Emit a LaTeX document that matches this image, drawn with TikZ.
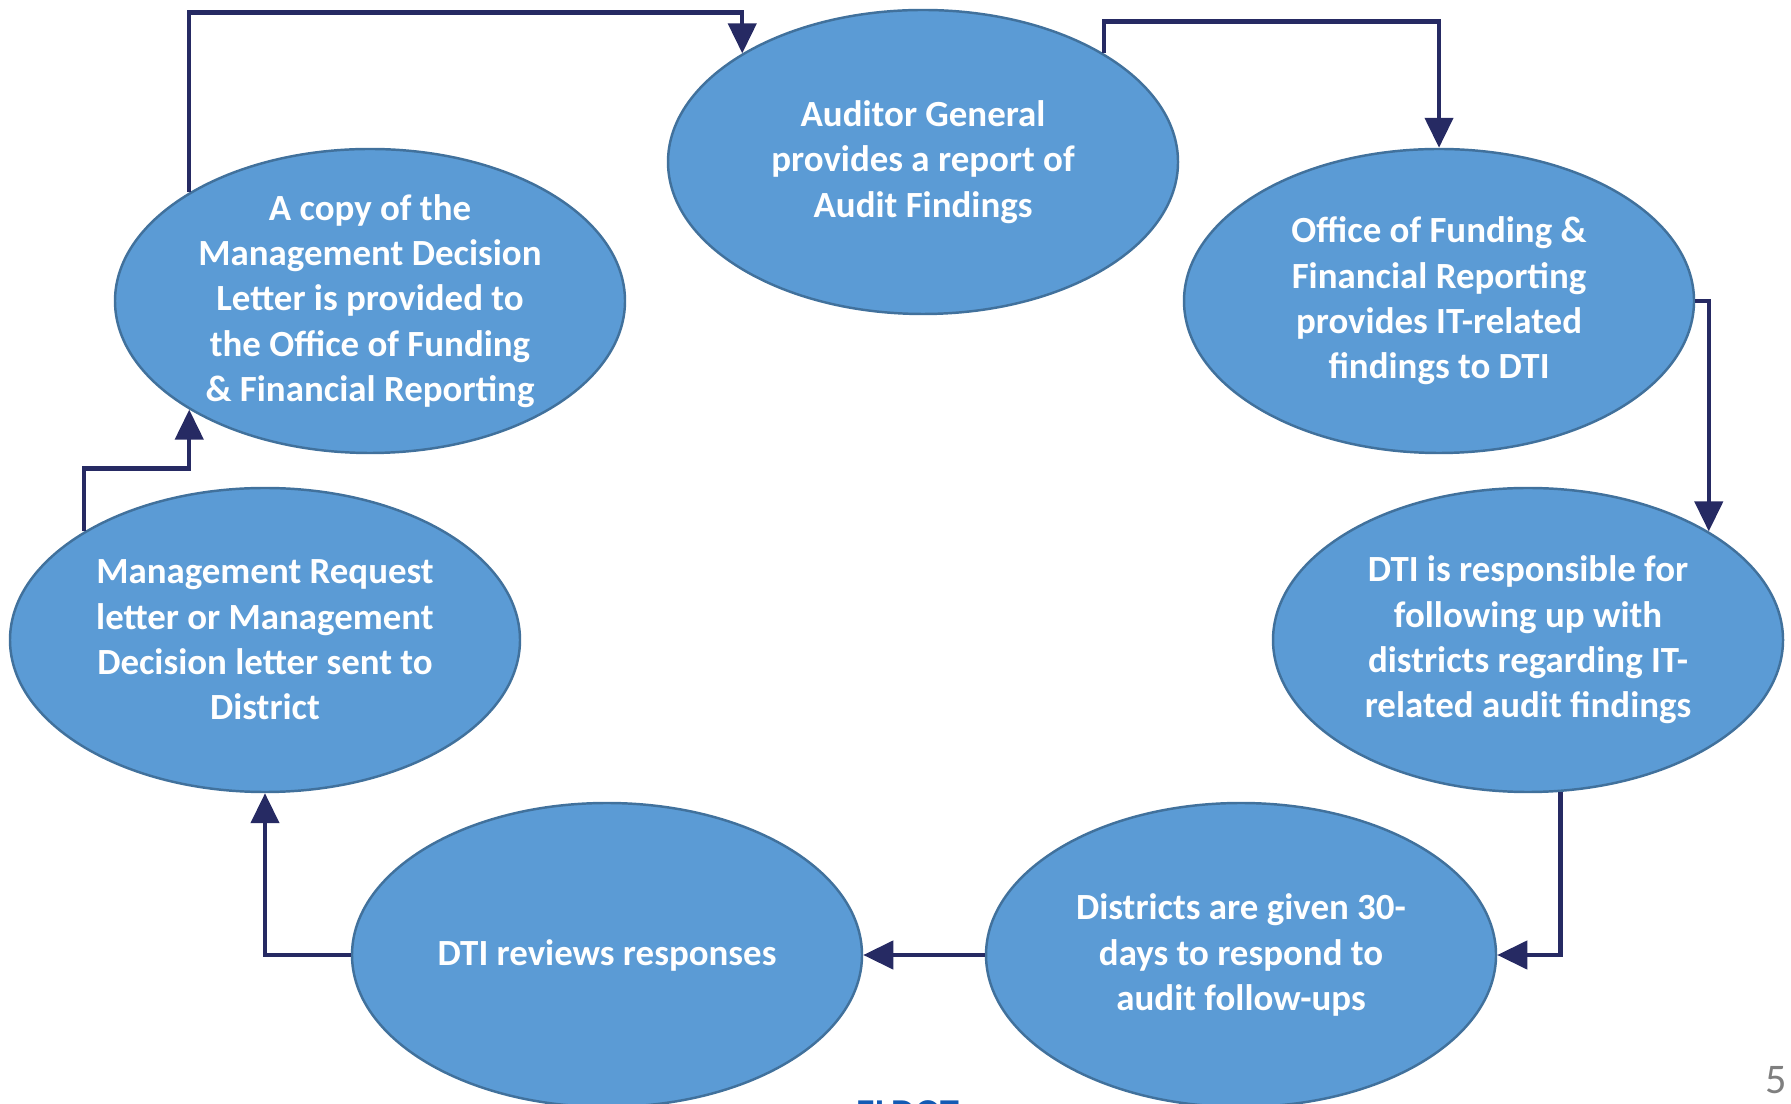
\documentclass[tikz,border=0pt]{standalone}
\usepackage{fontspec}
\setmainfont{Carlito}
\usepackage{xcolor}
\usetikzlibrary{positioning,shapes.geometric,arrows.meta}
\definecolor{stagefill}{HTML}{5B9BD5}
\definecolor{stageline}{HTML}{41719C}
\definecolor{linkcol}{RGB}{38,42,99}
\definecolor{logoblue}{RGB}{20,90,180}
\definecolor{pagegray}{HTML}{7F7F7F}

\begin{document}
\begin{tikzpicture}[
stage/.style={draw=stageline,fill=stagefill,line width=0.7pt,ellipse,
    minimum width=5.1cm,minimum height=3.04cm,inner sep=-4mm,
    align=center,text=white,font=\fontsize{10.5}{12.9}\selectfont\bfseries},
link/.style={draw=linkcol,line width=1.25pt,
    -{Triangle[width=0.28cm,length=0.3cm]}}]
\useasboundingbox (0,0) rectangle (17.91,-11.04);
\node (audit) [stage] at (9.23,-1.62)
    {Auditor General\\provides a report of\\Audit Findings};
\node (ofr) [stage] at (14.39,-3.01)
    {Office of Funding \&\\Financial Reporting\\provides IT-related\\findings to DTI};
\node (dti) [stage] at (15.28,-6.40)
    {DTI is responsible for\\following up with\\districts regarding IT-\\related audit findings};
\node (distr) [stage] at (12.41,-9.55)
    {Districts are given 30-\\days to respond to\\audit follow-ups};
\node (review) [stage] at (6.07,-9.55) {DTI reviews responses};
\node (mgmt) [stage] at (2.65,-6.40)
    {Management Request\\letter or Management\\Decision letter sent to\\District};
\node (copy) [stage] at (3.70,-3.01)
    {A copy of the\\Management Decision\\Letter is provided to\\the Office of Funding\\\& Financial Reporting};

\draw [link] (copy.149) -- ++(0,1.80) -| (audit.149);
\draw [link] (audit.31) -- ++(0,0.32) -| (ofr.north);
\draw [link] (ofr.east) -| (dti.31);
\draw [link] (dti.282) |- (distr.east);
\draw [link] (distr.west) -- (review.east);
\draw [link] (review.west) -| (mgmt.south);
\draw [link] (mgmt.149) -- ++(0,0.63) -| (copy.211);

\node (logo) [anchor=base west,text=logoblue,inner sep=0pt,
    font=\fontsize{10.8}{13}\selectfont\bfseries] at (8.56,-11.25) {ELDOT};
\node (pagenum) [anchor=base east,text=pagegray,inner sep=0pt,
    font=\fontsize{12}{14}\selectfont] at (17.88,-10.93) {5};
\end{tikzpicture}
\end{document}
